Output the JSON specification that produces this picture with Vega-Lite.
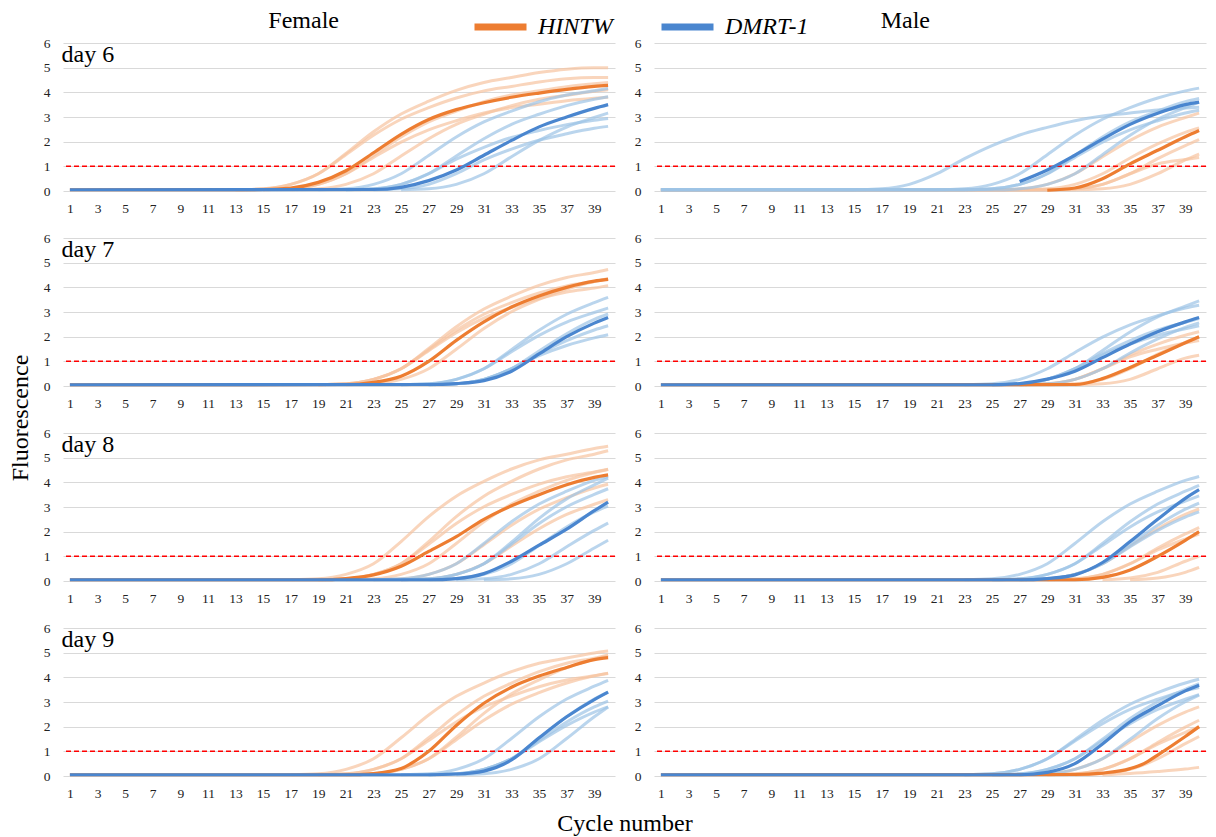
{
"$schema":"https://vega.github.io/schema/vega-lite/v6.json",
"padding":{"left":8,"top":9,"right":2,"bottom":0},
"background":"white",
"data":{"values":[
{"s":"F","d":6,"k":"L","t":"day 6"},{"s":"F","d":7,"k":"L","t":"day 7"},{"s":"F","d":8,"k":"L","t":"day 8"},{"s":"F","d":9,"k":"L","t":"day 9"},
{"s":"M","d":6,"k":"L","t":""},{"s":"M","d":7,"k":"L","t":""},{"s":"M","d":8,"k":"L","t":""},{"s":"M","d":9,"k":"L","t":""},

{"s":"F","d":6,"k":"H0","c":1,"f":0.05},{"s":"F","d":6,"k":"H0","c":15,"f":0.06},{"s":"F","d":6,"k":"H0","c":17,"f":0.12},{"s":"F","d":6,"k":"H0","c":19,"f":0.35},{"s":"F","d":6,"k":"H0","c":21,"f":0.82},{"s":"F","d":6,"k":"H0","c":23,"f":1.55},{"s":"F","d":6,"k":"H0","c":25,"f":2.3},{"s":"F","d":6,"k":"H0","c":27,"f":2.9},{"s":"F","d":6,"k":"H0","c":29,"f":3.3},{"s":"F","d":6,"k":"H0","c":31,"f":3.58},{"s":"F","d":6,"k":"H0","c":33,"f":3.8},{"s":"F","d":6,"k":"H0","c":35,"f":3.97},{"s":"F","d":6,"k":"H0","c":37,"f":4.12},{"s":"F","d":6,"k":"H0","c":39,"f":4.24},{"s":"F","d":6,"k":"H0","c":40,"f":4.28},
{"s":"F","d":6,"k":"H1","c":13,"f":0.05},{"s":"F","d":6,"k":"H1","c":15,"f":0.09},{"s":"F","d":6,"k":"H1","c":17,"f":0.27},{"s":"F","d":6,"k":"H1","c":19,"f":0.7},{"s":"F","d":6,"k":"H1","c":21,"f":1.52},{"s":"F","d":6,"k":"H1","c":23,"f":2.4},{"s":"F","d":6,"k":"H1","c":25,"f":3.12},{"s":"F","d":6,"k":"H1","c":27,"f":3.64},{"s":"F","d":6,"k":"H1","c":29,"f":4.08},{"s":"F","d":6,"k":"H1","c":31,"f":4.4},{"s":"F","d":6,"k":"H1","c":33,"f":4.6},{"s":"F","d":6,"k":"H1","c":35,"f":4.8},{"s":"F","d":6,"k":"H1","c":37,"f":4.94},{"s":"F","d":6,"k":"H1","c":39,"f":5.0},{"s":"F","d":6,"k":"H1","c":40,"f":5.0},
{"s":"F","d":6,"k":"H2","c":13,"f":0.05},{"s":"F","d":6,"k":"H2","c":15,"f":0.09},{"s":"F","d":6,"k":"H2","c":17,"f":0.27},{"s":"F","d":6,"k":"H2","c":19,"f":0.7},{"s":"F","d":6,"k":"H2","c":21,"f":1.47},{"s":"F","d":6,"k":"H2","c":23,"f":2.26},{"s":"F","d":6,"k":"H2","c":25,"f":2.91},{"s":"F","d":6,"k":"H2","c":27,"f":3.38},{"s":"F","d":6,"k":"H2","c":29,"f":3.77},{"s":"F","d":6,"k":"H2","c":31,"f":4.06},{"s":"F","d":6,"k":"H2","c":33,"f":4.24},{"s":"F","d":6,"k":"H2","c":35,"f":4.42},{"s":"F","d":6,"k":"H2","c":37,"f":4.55},{"s":"F","d":6,"k":"H2","c":39,"f":4.6},{"s":"F","d":6,"k":"H2","c":40,"f":4.6},
{"s":"F","d":6,"k":"H3","c":15,"f":0.05},{"s":"F","d":6,"k":"H3","c":17,"f":0.09},{"s":"F","d":6,"k":"H3","c":19,"f":0.27},{"s":"F","d":6,"k":"H3","c":21,"f":0.7},{"s":"F","d":6,"k":"H3","c":23,"f":1.44},{"s":"F","d":6,"k":"H3","c":25,"f":2.19},{"s":"F","d":6,"k":"H3","c":27,"f":2.8},{"s":"F","d":6,"k":"H3","c":29,"f":3.24},{"s":"F","d":6,"k":"H3","c":31,"f":3.62},{"s":"F","d":6,"k":"H3","c":33,"f":3.89},{"s":"F","d":6,"k":"H3","c":35,"f":4.06},{"s":"F","d":6,"k":"H3","c":37,"f":4.23},{"s":"F","d":6,"k":"H3","c":39,"f":4.35},{"s":"F","d":6,"k":"H3","c":40,"f":4.4},
{"s":"F","d":6,"k":"H4","c":15,"f":0.05},{"s":"F","d":6,"k":"H4","c":17,"f":0.09},{"s":"F","d":6,"k":"H4","c":19,"f":0.27},{"s":"F","d":6,"k":"H4","c":21,"f":0.7},{"s":"F","d":6,"k":"H4","c":23,"f":1.36},{"s":"F","d":6,"k":"H4","c":25,"f":1.98},{"s":"F","d":6,"k":"H4","c":27,"f":2.48},{"s":"F","d":6,"k":"H4","c":29,"f":2.85},{"s":"F","d":6,"k":"H4","c":31,"f":3.16},{"s":"F","d":6,"k":"H4","c":33,"f":3.38},{"s":"F","d":6,"k":"H4","c":35,"f":3.52},{"s":"F","d":6,"k":"H4","c":37,"f":3.66},{"s":"F","d":6,"k":"H4","c":39,"f":3.76},{"s":"F","d":6,"k":"H4","c":40,"f":3.8},
{"s":"F","d":6,"k":"H5","c":17,"f":0.05},{"s":"F","d":6,"k":"H5","c":19,"f":0.09},{"s":"F","d":6,"k":"H5","c":21,"f":0.27},{"s":"F","d":6,"k":"H5","c":23,"f":0.7},{"s":"F","d":6,"k":"H5","c":25,"f":1.42},{"s":"F","d":6,"k":"H5","c":27,"f":2.12},{"s":"F","d":6,"k":"H5","c":29,"f":2.7},{"s":"F","d":6,"k":"H5","c":31,"f":3.11},{"s":"F","d":6,"k":"H5","c":33,"f":3.46},{"s":"F","d":6,"k":"H5","c":35,"f":3.72},{"s":"F","d":6,"k":"H5","c":37,"f":3.88},{"s":"F","d":6,"k":"H5","c":39,"f":4.04},{"s":"F","d":6,"k":"H5","c":40,"f":4.1},
{"s":"F","d":6,"k":"D0","c":1,"f":0.05},{"s":"F","d":6,"k":"D0","c":23,"f":0.06},{"s":"F","d":6,"k":"D0","c":25,"f":0.15},{"s":"F","d":6,"k":"D0","c":27,"f":0.42},{"s":"F","d":6,"k":"D0","c":29,"f":0.85},{"s":"F","d":6,"k":"D0","c":31,"f":1.45},{"s":"F","d":6,"k":"D0","c":33,"f":2.05},{"s":"F","d":6,"k":"D0","c":35,"f":2.6},{"s":"F","d":6,"k":"D0","c":37,"f":3.0},{"s":"F","d":6,"k":"D0","c":39,"f":3.35},{"s":"F","d":6,"k":"D0","c":40,"f":3.5},
{"s":"F","d":6,"k":"D1","c":19,"f":0.05},{"s":"F","d":6,"k":"D1","c":21,"f":0.09},{"s":"F","d":6,"k":"D1","c":23,"f":0.27},{"s":"F","d":6,"k":"D1","c":25,"f":0.7},{"s":"F","d":6,"k":"D1","c":27,"f":1.44},{"s":"F","d":6,"k":"D1","c":29,"f":2.19},{"s":"F","d":6,"k":"D1","c":31,"f":2.8},{"s":"F","d":6,"k":"D1","c":33,"f":3.24},{"s":"F","d":6,"k":"D1","c":35,"f":3.62},{"s":"F","d":6,"k":"D1","c":37,"f":3.89},{"s":"F","d":6,"k":"D1","c":39,"f":4.06},{"s":"F","d":6,"k":"D1","c":40,"f":4.16},
{"s":"F","d":6,"k":"D2","c":21,"f":0.05},{"s":"F","d":6,"k":"D2","c":23,"f":0.09},{"s":"F","d":6,"k":"D2","c":25,"f":0.27},{"s":"F","d":6,"k":"D2","c":27,"f":0.7},{"s":"F","d":6,"k":"D2","c":29,"f":1.42},{"s":"F","d":6,"k":"D2","c":31,"f":2.12},{"s":"F","d":6,"k":"D2","c":33,"f":2.7},{"s":"F","d":6,"k":"D2","c":35,"f":3.11},{"s":"F","d":6,"k":"D2","c":37,"f":3.46},{"s":"F","d":6,"k":"D2","c":39,"f":3.72},{"s":"F","d":6,"k":"D2","c":40,"f":3.82},
{"s":"F","d":6,"k":"D3","c":21,"f":0.05},{"s":"F","d":6,"k":"D3","c":23,"f":0.09},{"s":"F","d":6,"k":"D3","c":25,"f":0.27},{"s":"F","d":6,"k":"D3","c":27,"f":0.7},{"s":"F","d":6,"k":"D3","c":29,"f":1.29},{"s":"F","d":6,"k":"D3","c":31,"f":1.77},{"s":"F","d":6,"k":"D3","c":33,"f":2.17},{"s":"F","d":6,"k":"D3","c":35,"f":2.45},{"s":"F","d":6,"k":"D3","c":37,"f":2.69},{"s":"F","d":6,"k":"D3","c":39,"f":2.87},{"s":"F","d":6,"k":"D3","c":40,"f":2.94},
{"s":"F","d":6,"k":"D4","c":23,"f":0.05},{"s":"F","d":6,"k":"D4","c":25,"f":0.09},{"s":"F","d":6,"k":"D4","c":27,"f":0.27},{"s":"F","d":6,"k":"D4","c":29,"f":0.7},{"s":"F","d":6,"k":"D4","c":31,"f":1.26},{"s":"F","d":6,"k":"D4","c":33,"f":1.7},{"s":"F","d":6,"k":"D4","c":35,"f":2.06},{"s":"F","d":6,"k":"D4","c":37,"f":2.32},{"s":"F","d":6,"k":"D4","c":39,"f":2.54},{"s":"F","d":6,"k":"D4","c":40,"f":2.62},
{"s":"F","d":6,"k":"D5","c":25,"f":0.05},{"s":"F","d":6,"k":"D5","c":27,"f":0.09},{"s":"F","d":6,"k":"D5","c":29,"f":0.27},{"s":"F","d":6,"k":"D5","c":31,"f":0.7},{"s":"F","d":6,"k":"D5","c":33,"f":1.39},{"s":"F","d":6,"k":"D5","c":35,"f":2.05},{"s":"F","d":6,"k":"D5","c":37,"f":2.59},{"s":"F","d":6,"k":"D5","c":39,"f":2.98},{"s":"F","d":6,"k":"D5","c":40,"f":3.16},

{"s":"M","d":6,"k":"H0","c":29,"f":0.03},{"s":"M","d":6,"k":"H0","c":31,"f":0.12},{"s":"M","d":6,"k":"H0","c":33,"f":0.5},{"s":"M","d":6,"k":"H0","c":35,"f":1.1},{"s":"M","d":6,"k":"H0","c":37,"f":1.65},{"s":"M","d":6,"k":"H0","c":39,"f":2.2},{"s":"M","d":6,"k":"H0","c":40,"f":2.45},
{"s":"M","d":6,"k":"H1","c":1,"f":0.05},{"s":"M","d":6,"k":"H1","c":25,"f":0.05},{"s":"M","d":6,"k":"H1","c":27,"f":0.09},{"s":"M","d":6,"k":"H1","c":29,"f":0.27},{"s":"M","d":6,"k":"H1","c":31,"f":0.7},{"s":"M","d":6,"k":"H1","c":33,"f":1.39},{"s":"M","d":6,"k":"H1","c":35,"f":2.05},{"s":"M","d":6,"k":"H1","c":37,"f":2.59},{"s":"M","d":6,"k":"H1","c":39,"f":2.98},{"s":"M","d":6,"k":"H1","c":40,"f":3.16},
{"s":"M","d":6,"k":"H2","c":1,"f":0.05},{"s":"M","d":6,"k":"H2","c":27,"f":0.05},{"s":"M","d":6,"k":"H2","c":29,"f":0.09},{"s":"M","d":6,"k":"H2","c":31,"f":0.27},{"s":"M","d":6,"k":"H2","c":33,"f":0.7},{"s":"M","d":6,"k":"H2","c":35,"f":1.34},{"s":"M","d":6,"k":"H2","c":37,"f":1.91},{"s":"M","d":6,"k":"H2","c":39,"f":2.38},{"s":"M","d":6,"k":"H2","c":40,"f":2.56},
{"s":"M","d":6,"k":"H3","c":1,"f":0.05},{"s":"M","d":6,"k":"H3","c":29,"f":0.05},{"s":"M","d":6,"k":"H3","c":31,"f":0.09},{"s":"M","d":6,"k":"H3","c":33,"f":0.27},{"s":"M","d":6,"k":"H3","c":35,"f":0.7},{"s":"M","d":6,"k":"H3","c":37,"f":1.31},{"s":"M","d":6,"k":"H3","c":39,"f":1.84},{"s":"M","d":6,"k":"H3","c":40,"f":2.08},
{"s":"M","d":6,"k":"H4","c":1,"f":0.05},{"s":"M","d":6,"k":"H4","c":29,"f":0.05},{"s":"M","d":6,"k":"H4","c":31,"f":0.09},{"s":"M","d":6,"k":"H4","c":33,"f":0.27},{"s":"M","d":6,"k":"H4","c":35,"f":0.7},{"s":"M","d":6,"k":"H4","c":37,"f":1.1},{"s":"M","d":6,"k":"H4","c":39,"f":1.28},{"s":"M","d":6,"k":"H4","c":40,"f":1.36},
{"s":"M","d":6,"k":"H5","c":1,"f":0.05},{"s":"M","d":6,"k":"H5","c":31,"f":0.05},{"s":"M","d":6,"k":"H5","c":33,"f":0.09},{"s":"M","d":6,"k":"H5","c":35,"f":0.27},{"s":"M","d":6,"k":"H5","c":37,"f":0.7},{"s":"M","d":6,"k":"H5","c":39,"f":1.26},{"s":"M","d":6,"k":"H5","c":40,"f":1.5},
{"s":"M","d":6,"k":"D0","c":27,"f":0.38},{"s":"M","d":6,"k":"D0","c":29,"f":0.85},{"s":"M","d":6,"k":"D0","c":31,"f":1.45},{"s":"M","d":6,"k":"D0","c":33,"f":2.1},{"s":"M","d":6,"k":"D0","c":35,"f":2.7},{"s":"M","d":6,"k":"D0","c":37,"f":3.15},{"s":"M","d":6,"k":"D0","c":39,"f":3.5},{"s":"M","d":6,"k":"D0","c":40,"f":3.6},
{"s":"M","d":6,"k":"D1","c":1,"f":0.05},{"s":"M","d":6,"k":"D1","c":15,"f":0.05},{"s":"M","d":6,"k":"D1","c":17,"f":0.09},{"s":"M","d":6,"k":"D1","c":19,"f":0.27},{"s":"M","d":6,"k":"D1","c":21,"f":0.7},{"s":"M","d":6,"k":"D1","c":23,"f":1.31},{"s":"M","d":6,"k":"D1","c":25,"f":1.84},{"s":"M","d":6,"k":"D1","c":27,"f":2.27},{"s":"M","d":6,"k":"D1","c":29,"f":2.58},{"s":"M","d":6,"k":"D1","c":31,"f":2.85},{"s":"M","d":6,"k":"D1","c":33,"f":3.04},{"s":"M","d":6,"k":"D1","c":35,"f":3.16},{"s":"M","d":6,"k":"D1","c":37,"f":3.28},{"s":"M","d":6,"k":"D1","c":39,"f":3.36},{"s":"M","d":6,"k":"D1","c":40,"f":3.4},
{"s":"M","d":6,"k":"D2","c":1,"f":0.05},{"s":"M","d":6,"k":"D2","c":21,"f":0.05},{"s":"M","d":6,"k":"D2","c":23,"f":0.09},{"s":"M","d":6,"k":"D2","c":25,"f":0.27},{"s":"M","d":6,"k":"D2","c":27,"f":0.7},{"s":"M","d":6,"k":"D2","c":29,"f":1.47},{"s":"M","d":6,"k":"D2","c":31,"f":2.26},{"s":"M","d":6,"k":"D2","c":33,"f":2.91},{"s":"M","d":6,"k":"D2","c":35,"f":3.38},{"s":"M","d":6,"k":"D2","c":37,"f":3.77},{"s":"M","d":6,"k":"D2","c":39,"f":4.06},{"s":"M","d":6,"k":"D2","c":40,"f":4.17},
{"s":"M","d":6,"k":"D3","c":1,"f":0.05},{"s":"M","d":6,"k":"D3","c":23,"f":0.05},{"s":"M","d":6,"k":"D3","c":25,"f":0.09},{"s":"M","d":6,"k":"D3","c":27,"f":0.27},{"s":"M","d":6,"k":"D3","c":29,"f":0.7},{"s":"M","d":6,"k":"D3","c":31,"f":1.44},{"s":"M","d":6,"k":"D3","c":33,"f":2.19},{"s":"M","d":6,"k":"D3","c":35,"f":2.8},{"s":"M","d":6,"k":"D3","c":37,"f":3.24},{"s":"M","d":6,"k":"D3","c":39,"f":3.62},{"s":"M","d":6,"k":"D3","c":40,"f":3.75},
{"s":"M","d":6,"k":"D4","c":1,"f":0.05},{"s":"M","d":6,"k":"D4","c":23,"f":0.05},{"s":"M","d":6,"k":"D4","c":25,"f":0.09},{"s":"M","d":6,"k":"D4","c":27,"f":0.27},{"s":"M","d":6,"k":"D4","c":29,"f":0.7},{"s":"M","d":6,"k":"D4","c":31,"f":1.36},{"s":"M","d":6,"k":"D4","c":33,"f":1.98},{"s":"M","d":6,"k":"D4","c":35,"f":2.48},{"s":"M","d":6,"k":"D4","c":37,"f":2.85},{"s":"M","d":6,"k":"D4","c":39,"f":3.16},{"s":"M","d":6,"k":"D4","c":40,"f":3.27},
{"s":"M","d":6,"k":"D5","c":1,"f":0.05},{"s":"M","d":6,"k":"D5","c":25,"f":0.05},{"s":"M","d":6,"k":"D5","c":27,"f":0.09},{"s":"M","d":6,"k":"D5","c":29,"f":0.27},{"s":"M","d":6,"k":"D5","c":31,"f":0.7},{"s":"M","d":6,"k":"D5","c":33,"f":1.47},{"s":"M","d":6,"k":"D5","c":35,"f":2.26},{"s":"M","d":6,"k":"D5","c":37,"f":2.91},{"s":"M","d":6,"k":"D5","c":39,"f":3.38},{"s":"M","d":6,"k":"D5","c":40,"f":3.59},

{"s":"F","d":7,"k":"H0","c":1,"f":0.05},{"s":"F","d":7,"k":"H0","c":21,"f":0.06},{"s":"F","d":7,"k":"H0","c":23,"f":0.15},{"s":"F","d":7,"k":"H0","c":25,"f":0.4},{"s":"F","d":7,"k":"H0","c":27,"f":1.0},{"s":"F","d":7,"k":"H0","c":29,"f":1.85},{"s":"F","d":7,"k":"H0","c":31,"f":2.6},{"s":"F","d":7,"k":"H0","c":33,"f":3.2},{"s":"F","d":7,"k":"H0","c":35,"f":3.65},{"s":"F","d":7,"k":"H0","c":37,"f":4.0},{"s":"F","d":7,"k":"H0","c":39,"f":4.25},{"s":"F","d":7,"k":"H0","c":40,"f":4.32},
{"s":"F","d":7,"k":"H1","c":19,"f":0.05},{"s":"F","d":7,"k":"H1","c":21,"f":0.09},{"s":"F","d":7,"k":"H1","c":23,"f":0.27},{"s":"F","d":7,"k":"H1","c":25,"f":0.7},{"s":"F","d":7,"k":"H1","c":27,"f":1.52},{"s":"F","d":7,"k":"H1","c":29,"f":2.4},{"s":"F","d":7,"k":"H1","c":31,"f":3.12},{"s":"F","d":7,"k":"H1","c":33,"f":3.64},{"s":"F","d":7,"k":"H1","c":35,"f":4.08},{"s":"F","d":7,"k":"H1","c":37,"f":4.4},{"s":"F","d":7,"k":"H1","c":39,"f":4.6},{"s":"F","d":7,"k":"H1","c":40,"f":4.72},
{"s":"F","d":7,"k":"H2","c":19,"f":0.05},{"s":"F","d":7,"k":"H2","c":21,"f":0.09},{"s":"F","d":7,"k":"H2","c":23,"f":0.27},{"s":"F","d":7,"k":"H2","c":25,"f":0.7},{"s":"F","d":7,"k":"H2","c":27,"f":1.47},{"s":"F","d":7,"k":"H2","c":29,"f":2.26},{"s":"F","d":7,"k":"H2","c":31,"f":2.91},{"s":"F","d":7,"k":"H2","c":33,"f":3.38},{"s":"F","d":7,"k":"H2","c":35,"f":3.77},{"s":"F","d":7,"k":"H2","c":37,"f":4.06},{"s":"F","d":7,"k":"H2","c":39,"f":4.24},{"s":"F","d":7,"k":"H2","c":40,"f":4.35},
{"s":"F","d":7,"k":"H3","c":21,"f":0.05},{"s":"F","d":7,"k":"H3","c":23,"f":0.09},{"s":"F","d":7,"k":"H3","c":25,"f":0.27},{"s":"F","d":7,"k":"H3","c":27,"f":0.7},{"s":"F","d":7,"k":"H3","c":29,"f":1.49},{"s":"F","d":7,"k":"H3","c":31,"f":2.33},{"s":"F","d":7,"k":"H3","c":33,"f":3.01},{"s":"F","d":7,"k":"H3","c":35,"f":3.51},{"s":"F","d":7,"k":"H3","c":37,"f":3.93},{"s":"F","d":7,"k":"H3","c":39,"f":4.23},{"s":"F","d":7,"k":"H3","c":40,"f":4.34},
{"s":"F","d":7,"k":"H4","c":19,"f":0.05},{"s":"F","d":7,"k":"H4","c":21,"f":0.09},{"s":"F","d":7,"k":"H4","c":23,"f":0.27},{"s":"F","d":7,"k":"H4","c":25,"f":0.7},{"s":"F","d":7,"k":"H4","c":27,"f":1.43},{"s":"F","d":7,"k":"H4","c":29,"f":2.16},{"s":"F","d":7,"k":"H4","c":31,"f":2.75},{"s":"F","d":7,"k":"H4","c":33,"f":3.18},{"s":"F","d":7,"k":"H4","c":35,"f":3.54},{"s":"F","d":7,"k":"H4","c":37,"f":3.81},{"s":"F","d":7,"k":"H4","c":39,"f":3.97},{"s":"F","d":7,"k":"H4","c":40,"f":4.07},
{"s":"F","d":7,"k":"D0","c":1,"f":0.05},{"s":"F","d":7,"k":"D0","c":27,"f":0.06},{"s":"F","d":7,"k":"D0","c":29,"f":0.1},{"s":"F","d":7,"k":"D0","c":31,"f":0.22},{"s":"F","d":7,"k":"D0","c":33,"f":0.6},{"s":"F","d":7,"k":"D0","c":35,"f":1.3},{"s":"F","d":7,"k":"D0","c":37,"f":2.0},{"s":"F","d":7,"k":"D0","c":39,"f":2.55},{"s":"F","d":7,"k":"D0","c":40,"f":2.78},
{"s":"F","d":7,"k":"D1","c":25,"f":0.05},{"s":"F","d":7,"k":"D1","c":27,"f":0.09},{"s":"F","d":7,"k":"D1","c":29,"f":0.27},{"s":"F","d":7,"k":"D1","c":31,"f":0.7},{"s":"F","d":7,"k":"D1","c":33,"f":1.47},{"s":"F","d":7,"k":"D1","c":35,"f":2.26},{"s":"F","d":7,"k":"D1","c":37,"f":2.91},{"s":"F","d":7,"k":"D1","c":39,"f":3.38},{"s":"F","d":7,"k":"D1","c":40,"f":3.59},
{"s":"F","d":7,"k":"D2","c":25,"f":0.05},{"s":"F","d":7,"k":"D2","c":27,"f":0.09},{"s":"F","d":7,"k":"D2","c":29,"f":0.27},{"s":"F","d":7,"k":"D2","c":31,"f":0.7},{"s":"F","d":7,"k":"D2","c":33,"f":1.39},{"s":"F","d":7,"k":"D2","c":35,"f":2.05},{"s":"F","d":7,"k":"D2","c":37,"f":2.59},{"s":"F","d":7,"k":"D2","c":39,"f":2.98},{"s":"F","d":7,"k":"D2","c":40,"f":3.16},
{"s":"F","d":7,"k":"D3","c":27,"f":0.05},{"s":"F","d":7,"k":"D3","c":29,"f":0.09},{"s":"F","d":7,"k":"D3","c":31,"f":0.27},{"s":"F","d":7,"k":"D3","c":33,"f":0.7},{"s":"F","d":7,"k":"D3","c":35,"f":1.42},{"s":"F","d":7,"k":"D3","c":37,"f":2.12},{"s":"F","d":7,"k":"D3","c":39,"f":2.7},{"s":"F","d":7,"k":"D3","c":40,"f":2.92},
{"s":"F","d":7,"k":"D4","c":27,"f":0.05},{"s":"F","d":7,"k":"D4","c":29,"f":0.09},{"s":"F","d":7,"k":"D4","c":31,"f":0.27},{"s":"F","d":7,"k":"D4","c":33,"f":0.7},{"s":"F","d":7,"k":"D4","c":35,"f":1.31},{"s":"F","d":7,"k":"D4","c":37,"f":1.84},{"s":"F","d":7,"k":"D4","c":39,"f":2.27},{"s":"F","d":7,"k":"D4","c":40,"f":2.44},
{"s":"F","d":7,"k":"D5","c":27,"f":0.05},{"s":"F","d":7,"k":"D5","c":29,"f":0.09},{"s":"F","d":7,"k":"D5","c":31,"f":0.27},{"s":"F","d":7,"k":"D5","c":33,"f":0.7},{"s":"F","d":7,"k":"D5","c":35,"f":1.23},{"s":"F","d":7,"k":"D5","c":37,"f":1.64},{"s":"F","d":7,"k":"D5","c":39,"f":1.95},{"s":"F","d":7,"k":"D5","c":40,"f":2.08},

{"s":"M","d":7,"k":"H0","c":1,"f":0.05},{"s":"M","d":7,"k":"H0","c":31,"f":0.06},{"s":"M","d":7,"k":"H0","c":33,"f":0.3},{"s":"M","d":7,"k":"H0","c":35,"f":0.75},{"s":"M","d":7,"k":"H0","c":37,"f":1.25},{"s":"M","d":7,"k":"H0","c":39,"f":1.75},{"s":"M","d":7,"k":"H0","c":40,"f":2.0},
{"s":"M","d":7,"k":"H1","c":27,"f":0.05},{"s":"M","d":7,"k":"H1","c":29,"f":0.09},{"s":"M","d":7,"k":"H1","c":31,"f":0.27},{"s":"M","d":7,"k":"H1","c":33,"f":0.7},{"s":"M","d":7,"k":"H1","c":35,"f":1.26},{"s":"M","d":7,"k":"H1","c":37,"f":1.7},{"s":"M","d":7,"k":"H1","c":39,"f":2.06},{"s":"M","d":7,"k":"H1","c":40,"f":2.2},
{"s":"M","d":7,"k":"H2","c":29,"f":0.05},{"s":"M","d":7,"k":"H2","c":31,"f":0.09},{"s":"M","d":7,"k":"H2","c":33,"f":0.27},{"s":"M","d":7,"k":"H2","c":35,"f":0.7},{"s":"M","d":7,"k":"H2","c":37,"f":1.29},{"s":"M","d":7,"k":"H2","c":39,"f":1.77},{"s":"M","d":7,"k":"H2","c":40,"f":1.99},
{"s":"M","d":7,"k":"H3","c":31,"f":0.05},{"s":"M","d":7,"k":"H3","c":33,"f":0.09},{"s":"M","d":7,"k":"H3","c":35,"f":0.27},{"s":"M","d":7,"k":"H3","c":37,"f":0.7},{"s":"M","d":7,"k":"H3","c":39,"f":1.13},{"s":"M","d":7,"k":"H3","c":40,"f":1.25},
{"s":"M","d":7,"k":"H4","c":27,"f":0.05},{"s":"M","d":7,"k":"H4","c":29,"f":0.09},{"s":"M","d":7,"k":"H4","c":31,"f":0.27},{"s":"M","d":7,"k":"H4","c":33,"f":0.7},{"s":"M","d":7,"k":"H4","c":35,"f":1.18},{"s":"M","d":7,"k":"H4","c":37,"f":1.49},{"s":"M","d":7,"k":"H4","c":39,"f":1.74},{"s":"M","d":7,"k":"H4","c":40,"f":1.84},
{"s":"M","d":7,"k":"D0","c":1,"f":0.05},{"s":"M","d":7,"k":"D0","c":25,"f":0.05},{"s":"M","d":7,"k":"D0","c":27,"f":0.1},{"s":"M","d":7,"k":"D0","c":29,"f":0.28},{"s":"M","d":7,"k":"D0","c":31,"f":0.6},{"s":"M","d":7,"k":"D0","c":33,"f":1.15},{"s":"M","d":7,"k":"D0","c":35,"f":1.7},{"s":"M","d":7,"k":"D0","c":37,"f":2.2},{"s":"M","d":7,"k":"D0","c":39,"f":2.6},{"s":"M","d":7,"k":"D0","c":40,"f":2.78},
{"s":"M","d":7,"k":"D1","c":23,"f":0.05},{"s":"M","d":7,"k":"D1","c":25,"f":0.09},{"s":"M","d":7,"k":"D1","c":27,"f":0.27},{"s":"M","d":7,"k":"D1","c":29,"f":0.7},{"s":"M","d":7,"k":"D1","c":31,"f":1.36},{"s":"M","d":7,"k":"D1","c":33,"f":1.98},{"s":"M","d":7,"k":"D1","c":35,"f":2.48},{"s":"M","d":7,"k":"D1","c":37,"f":2.85},{"s":"M","d":7,"k":"D1","c":39,"f":3.16},{"s":"M","d":7,"k":"D1","c":40,"f":3.27},
{"s":"M","d":7,"k":"D2","c":25,"f":0.05},{"s":"M","d":7,"k":"D2","c":27,"f":0.09},{"s":"M","d":7,"k":"D2","c":29,"f":0.27},{"s":"M","d":7,"k":"D2","c":31,"f":0.7},{"s":"M","d":7,"k":"D2","c":33,"f":1.44},{"s":"M","d":7,"k":"D2","c":35,"f":2.19},{"s":"M","d":7,"k":"D2","c":37,"f":2.8},{"s":"M","d":7,"k":"D2","c":39,"f":3.24},{"s":"M","d":7,"k":"D2","c":40,"f":3.45},
{"s":"M","d":7,"k":"D3","c":25,"f":0.05},{"s":"M","d":7,"k":"D3","c":27,"f":0.09},{"s":"M","d":7,"k":"D3","c":29,"f":0.27},{"s":"M","d":7,"k":"D3","c":31,"f":0.7},{"s":"M","d":7,"k":"D3","c":33,"f":1.31},{"s":"M","d":7,"k":"D3","c":35,"f":1.84},{"s":"M","d":7,"k":"D3","c":37,"f":2.27},{"s":"M","d":7,"k":"D3","c":39,"f":2.58},{"s":"M","d":7,"k":"D3","c":40,"f":2.73},
{"s":"M","d":7,"k":"D4","c":27,"f":0.05},{"s":"M","d":7,"k":"D4","c":29,"f":0.09},{"s":"M","d":7,"k":"D4","c":31,"f":0.27},{"s":"M","d":7,"k":"D4","c":33,"f":0.7},{"s":"M","d":7,"k":"D4","c":35,"f":1.34},{"s":"M","d":7,"k":"D4","c":37,"f":1.91},{"s":"M","d":7,"k":"D4","c":39,"f":2.38},{"s":"M","d":7,"k":"D4","c":40,"f":2.56},
{"s":"M","d":7,"k":"D5","c":25,"f":0.05},{"s":"M","d":7,"k":"D5","c":27,"f":0.09},{"s":"M","d":7,"k":"D5","c":29,"f":0.27},{"s":"M","d":7,"k":"D5","c":31,"f":0.7},{"s":"M","d":7,"k":"D5","c":33,"f":1.26},{"s":"M","d":7,"k":"D5","c":35,"f":1.7},{"s":"M","d":7,"k":"D5","c":37,"f":2.06},{"s":"M","d":7,"k":"D5","c":39,"f":2.32},{"s":"M","d":7,"k":"D5","c":40,"f":2.44},

{"s":"F","d":8,"k":"H0","c":1,"f":0.05},{"s":"F","d":8,"k":"H0","c":19,"f":0.05},{"s":"F","d":8,"k":"H0","c":21,"f":0.1},{"s":"F","d":8,"k":"H0","c":23,"f":0.25},{"s":"F","d":8,"k":"H0","c":25,"f":0.6},{"s":"F","d":8,"k":"H0","c":27,"f":1.2},{"s":"F","d":8,"k":"H0","c":29,"f":1.8},{"s":"F","d":8,"k":"H0","c":31,"f":2.5},{"s":"F","d":8,"k":"H0","c":33,"f":3.05},{"s":"F","d":8,"k":"H0","c":35,"f":3.5},{"s":"F","d":8,"k":"H0","c":37,"f":3.9},{"s":"F","d":8,"k":"H0","c":39,"f":4.2},{"s":"F","d":8,"k":"H0","c":40,"f":4.3},
{"s":"F","d":8,"k":"H1","c":17,"f":0.05},{"s":"F","d":8,"k":"H1","c":19,"f":0.09},{"s":"F","d":8,"k":"H1","c":21,"f":0.27},{"s":"F","d":8,"k":"H1","c":23,"f":0.7},{"s":"F","d":8,"k":"H1","c":25,"f":1.6},{"s":"F","d":8,"k":"H1","c":27,"f":2.61},{"s":"F","d":8,"k":"H1","c":29,"f":3.44},{"s":"F","d":8,"k":"H1","c":31,"f":4.04},{"s":"F","d":8,"k":"H1","c":33,"f":4.54},{"s":"F","d":8,"k":"H1","c":35,"f":4.91},{"s":"F","d":8,"k":"H1","c":37,"f":5.14},{"s":"F","d":8,"k":"H1","c":39,"f":5.37},{"s":"F","d":8,"k":"H1","c":40,"f":5.46},
{"s":"F","d":8,"k":"H2","c":19,"f":0.05},{"s":"F","d":8,"k":"H2","c":21,"f":0.09},{"s":"F","d":8,"k":"H2","c":23,"f":0.27},{"s":"F","d":8,"k":"H2","c":25,"f":0.7},{"s":"F","d":8,"k":"H2","c":27,"f":1.6},{"s":"F","d":8,"k":"H2","c":29,"f":2.61},{"s":"F","d":8,"k":"H2","c":31,"f":3.44},{"s":"F","d":8,"k":"H2","c":33,"f":4.04},{"s":"F","d":8,"k":"H2","c":35,"f":4.54},{"s":"F","d":8,"k":"H2","c":37,"f":4.91},{"s":"F","d":8,"k":"H2","c":39,"f":5.14},{"s":"F","d":8,"k":"H2","c":40,"f":5.28},
{"s":"F","d":8,"k":"H3","c":19,"f":0.05},{"s":"F","d":8,"k":"H3","c":21,"f":0.09},{"s":"F","d":8,"k":"H3","c":23,"f":0.27},{"s":"F","d":8,"k":"H3","c":25,"f":0.7},{"s":"F","d":8,"k":"H3","c":27,"f":1.49},{"s":"F","d":8,"k":"H3","c":29,"f":2.33},{"s":"F","d":8,"k":"H3","c":31,"f":3.01},{"s":"F","d":8,"k":"H3","c":33,"f":3.51},{"s":"F","d":8,"k":"H3","c":35,"f":3.93},{"s":"F","d":8,"k":"H3","c":37,"f":4.23},{"s":"F","d":8,"k":"H3","c":39,"f":4.42},{"s":"F","d":8,"k":"H3","c":40,"f":4.53},
{"s":"F","d":8,"k":"H4","c":21,"f":0.05},{"s":"F","d":8,"k":"H4","c":23,"f":0.09},{"s":"F","d":8,"k":"H4","c":25,"f":0.27},{"s":"F","d":8,"k":"H4","c":27,"f":0.7},{"s":"F","d":8,"k":"H4","c":29,"f":1.52},{"s":"F","d":8,"k":"H4","c":31,"f":2.4},{"s":"F","d":8,"k":"H4","c":33,"f":3.12},{"s":"F","d":8,"k":"H4","c":35,"f":3.64},{"s":"F","d":8,"k":"H4","c":37,"f":4.08},{"s":"F","d":8,"k":"H4","c":39,"f":4.4},{"s":"F","d":8,"k":"H4","c":40,"f":4.52},
{"s":"F","d":8,"k":"H5","c":23,"f":0.05},{"s":"F","d":8,"k":"H5","c":25,"f":0.09},{"s":"F","d":8,"k":"H5","c":27,"f":0.27},{"s":"F","d":8,"k":"H5","c":29,"f":0.7},{"s":"F","d":8,"k":"H5","c":31,"f":1.47},{"s":"F","d":8,"k":"H5","c":33,"f":2.26},{"s":"F","d":8,"k":"H5","c":35,"f":2.91},{"s":"F","d":8,"k":"H5","c":37,"f":3.38},{"s":"F","d":8,"k":"H5","c":39,"f":3.77},{"s":"F","d":8,"k":"H5","c":40,"f":3.92},
{"s":"F","d":8,"k":"H6","c":25,"f":0.05},{"s":"F","d":8,"k":"H6","c":27,"f":0.09},{"s":"F","d":8,"k":"H6","c":29,"f":0.27},{"s":"F","d":8,"k":"H6","c":31,"f":0.7},{"s":"F","d":8,"k":"H6","c":33,"f":1.42},{"s":"F","d":8,"k":"H6","c":35,"f":2.12},{"s":"F","d":8,"k":"H6","c":37,"f":2.7},{"s":"F","d":8,"k":"H6","c":39,"f":3.11},{"s":"F","d":8,"k":"H6","c":40,"f":3.3},
{"s":"F","d":8,"k":"D0","c":1,"f":0.05},{"s":"F","d":8,"k":"D0","c":27,"f":0.05},{"s":"F","d":8,"k":"D0","c":29,"f":0.1},{"s":"F","d":8,"k":"D0","c":31,"f":0.3},{"s":"F","d":8,"k":"D0","c":33,"f":0.8},{"s":"F","d":8,"k":"D0","c":35,"f":1.45},{"s":"F","d":8,"k":"D0","c":37,"f":2.1},{"s":"F","d":8,"k":"D0","c":39,"f":2.85},{"s":"F","d":8,"k":"D0","c":40,"f":3.2},
{"s":"F","d":8,"k":"D1","c":23,"f":0.05},{"s":"F","d":8,"k":"D1","c":25,"f":0.09},{"s":"F","d":8,"k":"D1","c":27,"f":0.27},{"s":"F","d":8,"k":"D1","c":29,"f":0.7},{"s":"F","d":8,"k":"D1","c":31,"f":1.52},{"s":"F","d":8,"k":"D1","c":33,"f":2.4},{"s":"F","d":8,"k":"D1","c":35,"f":3.12},{"s":"F","d":8,"k":"D1","c":37,"f":3.64},{"s":"F","d":8,"k":"D1","c":39,"f":4.08},{"s":"F","d":8,"k":"D1","c":40,"f":4.24},
{"s":"F","d":8,"k":"D2","c":25,"f":0.05},{"s":"F","d":8,"k":"D2","c":27,"f":0.09},{"s":"F","d":8,"k":"D2","c":29,"f":0.27},{"s":"F","d":8,"k":"D2","c":31,"f":0.7},{"s":"F","d":8,"k":"D2","c":33,"f":1.49},{"s":"F","d":8,"k":"D2","c":35,"f":2.33},{"s":"F","d":8,"k":"D2","c":37,"f":3.01},{"s":"F","d":8,"k":"D2","c":39,"f":3.51},{"s":"F","d":8,"k":"D2","c":40,"f":3.74},
{"s":"F","d":8,"k":"D3","c":27,"f":0.05},{"s":"F","d":8,"k":"D3","c":29,"f":0.09},{"s":"F","d":8,"k":"D3","c":31,"f":0.27},{"s":"F","d":8,"k":"D3","c":33,"f":0.7},{"s":"F","d":8,"k":"D3","c":35,"f":1.44},{"s":"F","d":8,"k":"D3","c":37,"f":2.19},{"s":"F","d":8,"k":"D3","c":39,"f":2.8},{"s":"F","d":8,"k":"D3","c":40,"f":3.04},
{"s":"F","d":8,"k":"D4","c":29,"f":0.05},{"s":"F","d":8,"k":"D4","c":31,"f":0.09},{"s":"F","d":8,"k":"D4","c":33,"f":0.27},{"s":"F","d":8,"k":"D4","c":35,"f":0.7},{"s":"F","d":8,"k":"D4","c":37,"f":1.39},{"s":"F","d":8,"k":"D4","c":39,"f":2.05},{"s":"F","d":8,"k":"D4","c":40,"f":2.35},
{"s":"F","d":8,"k":"D5","c":31,"f":0.05},{"s":"F","d":8,"k":"D5","c":33,"f":0.09},{"s":"F","d":8,"k":"D5","c":35,"f":0.27},{"s":"F","d":8,"k":"D5","c":37,"f":0.7},{"s":"F","d":8,"k":"D5","c":39,"f":1.34},{"s":"F","d":8,"k":"D5","c":40,"f":1.65},
{"s":"F","d":8,"k":"D6","c":25,"f":0.05},{"s":"F","d":8,"k":"D6","c":27,"f":0.09},{"s":"F","d":8,"k":"D6","c":29,"f":0.27},{"s":"F","d":8,"k":"D6","c":31,"f":0.7},{"s":"F","d":8,"k":"D6","c":33,"f":1.57},{"s":"F","d":8,"k":"D6","c":35,"f":2.54},{"s":"F","d":8,"k":"D6","c":37,"f":3.33},{"s":"F","d":8,"k":"D6","c":39,"f":3.9},{"s":"F","d":8,"k":"D6","c":40,"f":4.17},

{"s":"M","d":8,"k":"H0","c":1,"f":0.05},{"s":"M","d":8,"k":"H0","c":31,"f":0.05},{"s":"M","d":8,"k":"H0","c":33,"f":0.15},{"s":"M","d":8,"k":"H0","c":35,"f":0.45},{"s":"M","d":8,"k":"H0","c":37,"f":1.0},{"s":"M","d":8,"k":"H0","c":39,"f":1.65},{"s":"M","d":8,"k":"H0","c":40,"f":2.0},
{"s":"M","d":8,"k":"H1","c":27,"f":0.05},{"s":"M","d":8,"k":"H1","c":29,"f":0.09},{"s":"M","d":8,"k":"H1","c":31,"f":0.27},{"s":"M","d":8,"k":"H1","c":33,"f":0.7},{"s":"M","d":8,"k":"H1","c":35,"f":1.42},{"s":"M","d":8,"k":"H1","c":37,"f":2.12},{"s":"M","d":8,"k":"H1","c":39,"f":2.7},{"s":"M","d":8,"k":"H1","c":40,"f":2.92},
{"s":"M","d":8,"k":"H2","c":29,"f":0.05},{"s":"M","d":8,"k":"H2","c":31,"f":0.09},{"s":"M","d":8,"k":"H2","c":33,"f":0.27},{"s":"M","d":8,"k":"H2","c":35,"f":0.7},{"s":"M","d":8,"k":"H2","c":37,"f":1.34},{"s":"M","d":8,"k":"H2","c":39,"f":1.91},{"s":"M","d":8,"k":"H2","c":40,"f":2.17},
{"s":"M","d":8,"k":"H3","c":29,"f":0.05},{"s":"M","d":8,"k":"H3","c":31,"f":0.09},{"s":"M","d":8,"k":"H3","c":33,"f":0.27},{"s":"M","d":8,"k":"H3","c":35,"f":0.7},{"s":"M","d":8,"k":"H3","c":37,"f":1.26},{"s":"M","d":8,"k":"H3","c":39,"f":1.7},{"s":"M","d":8,"k":"H3","c":40,"f":1.9},
{"s":"M","d":8,"k":"H4","c":33,"f":0.05},{"s":"M","d":8,"k":"H4","c":35,"f":0.12},{"s":"M","d":8,"k":"H4","c":37,"f":0.35},{"s":"M","d":8,"k":"H4","c":39,"f":0.8},{"s":"M","d":8,"k":"H4","c":40,"f":1.0},
{"s":"M","d":8,"k":"H5","c":35,"f":0.05},{"s":"M","d":8,"k":"H5","c":37,"f":0.12},{"s":"M","d":8,"k":"H5","c":39,"f":0.35},{"s":"M","d":8,"k":"H5","c":40,"f":0.55},
{"s":"M","d":8,"k":"D0","c":1,"f":0.05},{"s":"M","d":8,"k":"D0","c":27,"f":0.05},{"s":"M","d":8,"k":"D0","c":29,"f":0.1},{"s":"M","d":8,"k":"D0","c":31,"f":0.25},{"s":"M","d":8,"k":"D0","c":33,"f":0.75},{"s":"M","d":8,"k":"D0","c":35,"f":1.6},{"s":"M","d":8,"k":"D0","c":37,"f":2.5},{"s":"M","d":8,"k":"D0","c":39,"f":3.35},{"s":"M","d":8,"k":"D0","c":40,"f":3.7},
{"s":"M","d":8,"k":"D1","c":23,"f":0.05},{"s":"M","d":8,"k":"D1","c":25,"f":0.09},{"s":"M","d":8,"k":"D1","c":27,"f":0.27},{"s":"M","d":8,"k":"D1","c":29,"f":0.7},{"s":"M","d":8,"k":"D1","c":31,"f":1.52},{"s":"M","d":8,"k":"D1","c":33,"f":2.4},{"s":"M","d":8,"k":"D1","c":35,"f":3.12},{"s":"M","d":8,"k":"D1","c":37,"f":3.64},{"s":"M","d":8,"k":"D1","c":39,"f":4.08},{"s":"M","d":8,"k":"D1","c":40,"f":4.24},
{"s":"M","d":8,"k":"D2","c":25,"f":0.05},{"s":"M","d":8,"k":"D2","c":27,"f":0.09},{"s":"M","d":8,"k":"D2","c":29,"f":0.27},{"s":"M","d":8,"k":"D2","c":31,"f":0.7},{"s":"M","d":8,"k":"D2","c":33,"f":1.52},{"s":"M","d":8,"k":"D2","c":35,"f":2.4},{"s":"M","d":8,"k":"D2","c":37,"f":3.12},{"s":"M","d":8,"k":"D2","c":39,"f":3.64},{"s":"M","d":8,"k":"D2","c":40,"f":3.88},
{"s":"M","d":8,"k":"D3","c":25,"f":0.05},{"s":"M","d":8,"k":"D3","c":27,"f":0.09},{"s":"M","d":8,"k":"D3","c":29,"f":0.27},{"s":"M","d":8,"k":"D3","c":31,"f":0.7},{"s":"M","d":8,"k":"D3","c":33,"f":1.44},{"s":"M","d":8,"k":"D3","c":35,"f":2.19},{"s":"M","d":8,"k":"D3","c":37,"f":2.8},{"s":"M","d":8,"k":"D3","c":39,"f":3.24},{"s":"M","d":8,"k":"D3","c":40,"f":3.45},
{"s":"M","d":8,"k":"D4","c":27,"f":0.05},{"s":"M","d":8,"k":"D4","c":29,"f":0.09},{"s":"M","d":8,"k":"D4","c":31,"f":0.27},{"s":"M","d":8,"k":"D4","c":33,"f":0.7},{"s":"M","d":8,"k":"D4","c":35,"f":1.47},{"s":"M","d":8,"k":"D4","c":37,"f":2.26},{"s":"M","d":8,"k":"D4","c":39,"f":2.91},{"s":"M","d":8,"k":"D4","c":40,"f":3.16},
{"s":"M","d":8,"k":"D5","c":27,"f":0.05},{"s":"M","d":8,"k":"D5","c":29,"f":0.09},{"s":"M","d":8,"k":"D5","c":31,"f":0.27},{"s":"M","d":8,"k":"D5","c":33,"f":0.7},{"s":"M","d":8,"k":"D5","c":35,"f":1.39},{"s":"M","d":8,"k":"D5","c":37,"f":2.05},{"s":"M","d":8,"k":"D5","c":39,"f":2.59},{"s":"M","d":8,"k":"D5","c":40,"f":2.8},

{"s":"F","d":9,"k":"H0","c":1,"f":0.05},{"s":"F","d":9,"k":"H0","c":21,"f":0.05},{"s":"F","d":9,"k":"H0","c":23,"f":0.1},{"s":"F","d":9,"k":"H0","c":25,"f":0.3},{"s":"F","d":9,"k":"H0","c":26,"f":0.6},{"s":"F","d":9,"k":"H0","c":27,"f":1.0},{"s":"F","d":9,"k":"H0","c":29,"f":2.05},{"s":"F","d":9,"k":"H0","c":31,"f":2.95},{"s":"F","d":9,"k":"H0","c":33,"f":3.6},{"s":"F","d":9,"k":"H0","c":35,"f":4.05},{"s":"F","d":9,"k":"H0","c":37,"f":4.4},{"s":"F","d":9,"k":"H0","c":39,"f":4.72},{"s":"F","d":9,"k":"H0","c":40,"f":4.8},
{"s":"F","d":9,"k":"H1","c":17,"f":0.05},{"s":"F","d":9,"k":"H1","c":19,"f":0.09},{"s":"F","d":9,"k":"H1","c":21,"f":0.27},{"s":"F","d":9,"k":"H1","c":23,"f":0.7},{"s":"F","d":9,"k":"H1","c":25,"f":1.55},{"s":"F","d":9,"k":"H1","c":27,"f":2.47},{"s":"F","d":9,"k":"H1","c":29,"f":3.23},{"s":"F","d":9,"k":"H1","c":31,"f":3.77},{"s":"F","d":9,"k":"H1","c":33,"f":4.23},{"s":"F","d":9,"k":"H1","c":35,"f":4.57},{"s":"F","d":9,"k":"H1","c":37,"f":4.78},{"s":"F","d":9,"k":"H1","c":39,"f":4.99},{"s":"F","d":9,"k":"H1","c":40,"f":5.07},
{"s":"F","d":9,"k":"H2","c":19,"f":0.05},{"s":"F","d":9,"k":"H2","c":21,"f":0.09},{"s":"F","d":9,"k":"H2","c":23,"f":0.27},{"s":"F","d":9,"k":"H2","c":25,"f":0.7},{"s":"F","d":9,"k":"H2","c":27,"f":1.55},{"s":"F","d":9,"k":"H2","c":29,"f":2.47},{"s":"F","d":9,"k":"H2","c":31,"f":3.23},{"s":"F","d":9,"k":"H2","c":33,"f":3.77},{"s":"F","d":9,"k":"H2","c":35,"f":4.23},{"s":"F","d":9,"k":"H2","c":37,"f":4.57},{"s":"F","d":9,"k":"H2","c":39,"f":4.78},{"s":"F","d":9,"k":"H2","c":40,"f":4.91},
{"s":"F","d":9,"k":"H3","c":21,"f":0.05},{"s":"F","d":9,"k":"H3","c":23,"f":0.09},{"s":"F","d":9,"k":"H3","c":25,"f":0.27},{"s":"F","d":9,"k":"H3","c":27,"f":0.7},{"s":"F","d":9,"k":"H3","c":29,"f":1.57},{"s":"F","d":9,"k":"H3","c":31,"f":2.54},{"s":"F","d":9,"k":"H3","c":33,"f":3.33},{"s":"F","d":9,"k":"H3","c":35,"f":3.9},{"s":"F","d":9,"k":"H3","c":37,"f":4.39},{"s":"F","d":9,"k":"H3","c":39,"f":4.74},{"s":"F","d":9,"k":"H3","c":40,"f":4.87},
{"s":"F","d":9,"k":"H4","c":19,"f":0.05},{"s":"F","d":9,"k":"H4","c":21,"f":0.09},{"s":"F","d":9,"k":"H4","c":23,"f":0.27},{"s":"F","d":9,"k":"H4","c":25,"f":0.7},{"s":"F","d":9,"k":"H4","c":27,"f":1.44},{"s":"F","d":9,"k":"H4","c":29,"f":2.19},{"s":"F","d":9,"k":"H4","c":31,"f":2.8},{"s":"F","d":9,"k":"H4","c":33,"f":3.24},{"s":"F","d":9,"k":"H4","c":35,"f":3.62},{"s":"F","d":9,"k":"H4","c":37,"f":3.89},{"s":"F","d":9,"k":"H4","c":39,"f":4.06},{"s":"F","d":9,"k":"H4","c":40,"f":4.16},
{"s":"F","d":9,"k":"H5","c":21,"f":0.05},{"s":"F","d":9,"k":"H5","c":23,"f":0.09},{"s":"F","d":9,"k":"H5","c":25,"f":0.27},{"s":"F","d":9,"k":"H5","c":27,"f":0.7},{"s":"F","d":9,"k":"H5","c":29,"f":1.47},{"s":"F","d":9,"k":"H5","c":31,"f":2.26},{"s":"F","d":9,"k":"H5","c":33,"f":2.91},{"s":"F","d":9,"k":"H5","c":35,"f":3.38},{"s":"F","d":9,"k":"H5","c":37,"f":3.77},{"s":"F","d":9,"k":"H5","c":39,"f":4.06},{"s":"F","d":9,"k":"H5","c":40,"f":4.17},
{"s":"F","d":9,"k":"D0","c":1,"f":0.05},{"s":"F","d":9,"k":"D0","c":27,"f":0.05},{"s":"F","d":9,"k":"D0","c":29,"f":0.08},{"s":"F","d":9,"k":"D0","c":31,"f":0.2},{"s":"F","d":9,"k":"D0","c":33,"f":0.65},{"s":"F","d":9,"k":"D0","c":35,"f":1.55},{"s":"F","d":9,"k":"D0","c":37,"f":2.4},{"s":"F","d":9,"k":"D0","c":39,"f":3.1},{"s":"F","d":9,"k":"D0","c":40,"f":3.4},
{"s":"F","d":9,"k":"D1","c":25,"f":0.05},{"s":"F","d":9,"k":"D1","c":27,"f":0.09},{"s":"F","d":9,"k":"D1","c":29,"f":0.27},{"s":"F","d":9,"k":"D1","c":31,"f":0.7},{"s":"F","d":9,"k":"D1","c":33,"f":1.52},{"s":"F","d":9,"k":"D1","c":35,"f":2.4},{"s":"F","d":9,"k":"D1","c":37,"f":3.12},{"s":"F","d":9,"k":"D1","c":39,"f":3.64},{"s":"F","d":9,"k":"D1","c":40,"f":3.88},
{"s":"F","d":9,"k":"D2","c":27,"f":0.05},{"s":"F","d":9,"k":"D2","c":29,"f":0.09},{"s":"F","d":9,"k":"D2","c":31,"f":0.27},{"s":"F","d":9,"k":"D2","c":33,"f":0.7},{"s":"F","d":9,"k":"D2","c":35,"f":1.52},{"s":"F","d":9,"k":"D2","c":37,"f":2.4},{"s":"F","d":9,"k":"D2","c":39,"f":3.12},{"s":"F","d":9,"k":"D2","c":40,"f":3.4},
{"s":"F","d":9,"k":"D3","c":27,"f":0.05},{"s":"F","d":9,"k":"D3","c":29,"f":0.09},{"s":"F","d":9,"k":"D3","c":31,"f":0.27},{"s":"F","d":9,"k":"D3","c":33,"f":0.7},{"s":"F","d":9,"k":"D3","c":35,"f":1.44},{"s":"F","d":9,"k":"D3","c":37,"f":2.19},{"s":"F","d":9,"k":"D3","c":39,"f":2.8},{"s":"F","d":9,"k":"D3","c":40,"f":3.04},
{"s":"F","d":9,"k":"D4","c":29,"f":0.05},{"s":"F","d":9,"k":"D4","c":31,"f":0.09},{"s":"F","d":9,"k":"D4","c":33,"f":0.27},{"s":"F","d":9,"k":"D4","c":35,"f":0.7},{"s":"F","d":9,"k":"D4","c":37,"f":1.52},{"s":"F","d":9,"k":"D4","c":39,"f":2.4},{"s":"F","d":9,"k":"D4","c":40,"f":2.8},
{"s":"F","d":9,"k":"D5","c":27,"f":0.05},{"s":"F","d":9,"k":"D5","c":29,"f":0.09},{"s":"F","d":9,"k":"D5","c":31,"f":0.27},{"s":"F","d":9,"k":"D5","c":33,"f":0.7},{"s":"F","d":9,"k":"D5","c":35,"f":1.39},{"s":"F","d":9,"k":"D5","c":37,"f":2.05},{"s":"F","d":9,"k":"D5","c":39,"f":2.59},{"s":"F","d":9,"k":"D5","c":40,"f":2.8},

{"s":"M","d":9,"k":"H0","c":1,"f":0.05},{"s":"M","d":9,"k":"H0","c":31,"f":0.06},{"s":"M","d":9,"k":"H0","c":33,"f":0.12},{"s":"M","d":9,"k":"H0","c":35,"f":0.3},{"s":"M","d":9,"k":"H0","c":36,"f":0.5},{"s":"M","d":9,"k":"H0","c":37,"f":0.85},{"s":"M","d":9,"k":"H0","c":39,"f":1.6},{"s":"M","d":9,"k":"H0","c":40,"f":2.0},
{"s":"M","d":9,"k":"H1","c":27,"f":0.05},{"s":"M","d":9,"k":"H1","c":29,"f":0.09},{"s":"M","d":9,"k":"H1","c":31,"f":0.27},{"s":"M","d":9,"k":"H1","c":33,"f":0.7},{"s":"M","d":9,"k":"H1","c":35,"f":1.39},{"s":"M","d":9,"k":"H1","c":37,"f":2.05},{"s":"M","d":9,"k":"H1","c":39,"f":2.59},{"s":"M","d":9,"k":"H1","c":40,"f":2.8},
{"s":"M","d":9,"k":"H2","c":29,"f":0.05},{"s":"M","d":9,"k":"H2","c":31,"f":0.09},{"s":"M","d":9,"k":"H2","c":33,"f":0.27},{"s":"M","d":9,"k":"H2","c":35,"f":0.7},{"s":"M","d":9,"k":"H2","c":37,"f":1.36},{"s":"M","d":9,"k":"H2","c":39,"f":1.98},{"s":"M","d":9,"k":"H2","c":40,"f":2.26},
{"s":"M","d":9,"k":"H3","c":29,"f":0.05},{"s":"M","d":9,"k":"H3","c":31,"f":0.09},{"s":"M","d":9,"k":"H3","c":33,"f":0.27},{"s":"M","d":9,"k":"H3","c":35,"f":0.7},{"s":"M","d":9,"k":"H3","c":37,"f":1.29},{"s":"M","d":9,"k":"H3","c":39,"f":1.77},{"s":"M","d":9,"k":"H3","c":40,"f":1.99},
{"s":"M","d":9,"k":"H4","c":31,"f":0.05},{"s":"M","d":9,"k":"H4","c":33,"f":0.09},{"s":"M","d":9,"k":"H4","c":35,"f":0.27},{"s":"M","d":9,"k":"H4","c":37,"f":0.7},{"s":"M","d":9,"k":"H4","c":39,"f":1.31},{"s":"M","d":9,"k":"H4","c":40,"f":1.6},
{"s":"M","d":9,"k":"H5","c":33,"f":0.05},{"s":"M","d":9,"k":"H5","c":35,"f":0.1},{"s":"M","d":9,"k":"H5","c":37,"f":0.18},{"s":"M","d":9,"k":"H5","c":39,"f":0.28},{"s":"M","d":9,"k":"H5","c":40,"f":0.35},
{"s":"M","d":9,"k":"D0","c":1,"f":0.05},{"s":"M","d":9,"k":"D0","c":27,"f":0.05},{"s":"M","d":9,"k":"D0","c":29,"f":0.15},{"s":"M","d":9,"k":"D0","c":31,"f":0.5},{"s":"M","d":9,"k":"D0","c":33,"f":1.3},{"s":"M","d":9,"k":"D0","c":35,"f":2.2},{"s":"M","d":9,"k":"D0","c":37,"f":2.85},{"s":"M","d":9,"k":"D0","c":39,"f":3.45},{"s":"M","d":9,"k":"D0","c":40,"f":3.68},
{"s":"M","d":9,"k":"D1","c":23,"f":0.05},{"s":"M","d":9,"k":"D1","c":25,"f":0.09},{"s":"M","d":9,"k":"D1","c":27,"f":0.27},{"s":"M","d":9,"k":"D1","c":29,"f":0.7},{"s":"M","d":9,"k":"D1","c":31,"f":1.47},{"s":"M","d":9,"k":"D1","c":33,"f":2.26},{"s":"M","d":9,"k":"D1","c":35,"f":2.91},{"s":"M","d":9,"k":"D1","c":37,"f":3.38},{"s":"M","d":9,"k":"D1","c":39,"f":3.77},{"s":"M","d":9,"k":"D1","c":40,"f":3.92},
{"s":"M","d":9,"k":"D2","c":25,"f":0.05},{"s":"M","d":9,"k":"D2","c":27,"f":0.09},{"s":"M","d":9,"k":"D2","c":29,"f":0.27},{"s":"M","d":9,"k":"D2","c":31,"f":0.7},{"s":"M","d":9,"k":"D2","c":33,"f":1.49},{"s":"M","d":9,"k":"D2","c":35,"f":2.33},{"s":"M","d":9,"k":"D2","c":37,"f":3.01},{"s":"M","d":9,"k":"D2","c":39,"f":3.51},{"s":"M","d":9,"k":"D2","c":40,"f":3.74},
{"s":"M","d":9,"k":"D3","c":25,"f":0.05},{"s":"M","d":9,"k":"D3","c":27,"f":0.09},{"s":"M","d":9,"k":"D3","c":29,"f":0.27},{"s":"M","d":9,"k":"D3","c":31,"f":0.7},{"s":"M","d":9,"k":"D3","c":33,"f":1.42},{"s":"M","d":9,"k":"D3","c":35,"f":2.12},{"s":"M","d":9,"k":"D3","c":37,"f":2.7},{"s":"M","d":9,"k":"D3","c":39,"f":3.11},{"s":"M","d":9,"k":"D3","c":40,"f":3.3},
{"s":"M","d":9,"k":"D4","c":27,"f":0.05},{"s":"M","d":9,"k":"D4","c":29,"f":0.09},{"s":"M","d":9,"k":"D4","c":31,"f":0.27},{"s":"M","d":9,"k":"D4","c":33,"f":0.7},{"s":"M","d":9,"k":"D4","c":35,"f":1.49},{"s":"M","d":9,"k":"D4","c":37,"f":2.33},{"s":"M","d":9,"k":"D4","c":39,"f":3.01},{"s":"M","d":9,"k":"D4","c":40,"f":3.28},
{"s":"M","d":9,"k":"D5","c":23,"f":0.05},{"s":"M","d":9,"k":"D5","c":25,"f":0.09},{"s":"M","d":9,"k":"D5","c":27,"f":0.27},{"s":"M","d":9,"k":"D5","c":29,"f":0.7},{"s":"M","d":9,"k":"D5","c":31,"f":1.42},{"s":"M","d":9,"k":"D5","c":33,"f":2.12},{"s":"M","d":9,"k":"D5","c":35,"f":2.7},{"s":"M","d":9,"k":"D5","c":37,"f":3.11},{"s":"M","d":9,"k":"D5","c":39,"f":3.46},{"s":"M","d":9,"k":"D5","c":40,"f":3.59}
]},
"facet":{
 "row":{"field":"d","type":"ordinal","header":{"labels":false,"title":"Fluorescence","titleFont":"Liberation Serif","titleFontSize":24,"titleFontWeight":"normal","titleColor":"#000","titlePadding":0}},
 "column":{"field":"s","type":"nominal","sort":["F","M"],"header":{"labelExpr":"datum.value=='F'?'Female':'Male'","labelFont":"Liberation Serif","labelFontSize":24,"labelColor":"#000","labelOrient":"top","labelAlign":"right","labelPadding":3,"title":"Cycle number","titleOrient":"bottom","titleFont":"Liberation Serif","titleFontSize":24,"titleFontWeight":"normal","titleColor":"#000","titlePadding":2}}
},
"spacing":{"row":16,"column":18},
"resolve":{"axis":{"x":"independent","y":"independent"}},
"spec":{
 "width":552,"height":148,
 "layer":[
  {"transform":[{"filter":{"field":"k","oneOf":["H1","H2","H3","H4","H5","H6"]}}],
   "mark":{"type":"line","interpolate":"monotone","color":"#F6C3A0","opacity":0.7,"strokeWidth":3},
   "encoding":{
    "x":{"field":"c","type":"quantitative","title":null,"scale":{"domain":[0.5,40.5],"nice":false,"zero":false},
         "axis":{"values":[1,3,5,7,9,11,13,15,17,19,21,23,25,27,29,31,33,35,37,39],"tickCount":60,"format":"d","grid":false,"ticks":false,"domain":false,"labelFont":"Liberation Serif","labelFontSize":13.5,"labelColor":"#222","labelPadding":10,"labelFlush":false,"labelOverlap":false,"labelBound":false}},
    "y":{"field":"f","type":"quantitative","title":null,"scale":{"domain":[0,6],"nice":false,"zero":true},
         "axis":{"values":[0,1,2,3,4,5,6],"tickCount":20,"format":"d","grid":true,"gridColor":"#D9D9D9","ticks":false,"domain":false,"labelFont":"Liberation Serif","labelFontSize":13.5,"labelColor":"#222","labelPadding":13,"labelFlush":false,"labelOverlap":false,"labelBound":false}},
    "detail":{"field":"k"}}},
  {"transform":[{"filter":{"field":"k","oneOf":["D1","D2","D3","D4","D5","D6"]}}],
   "mark":{"type":"line","interpolate":"monotone","color":"#9DC3E6","opacity":0.7,"strokeWidth":3},
   "encoding":{"x":{"field":"c","type":"quantitative","title":null},"y":{"field":"f","type":"quantitative","title":null},"detail":{"field":"k"}}},
  {"transform":[{"filter":{"field":"k","equal":"L"}}],
   "mark":{"type":"rule","color":"#FF0000","strokeDash":[5,3],"strokeWidth":1.5},
   "encoding":{"y":{"datum":1,"type":"quantitative"}}},
  {"transform":[{"filter":{"field":"k","equal":"H0"}}],
   "mark":{"type":"line","interpolate":"monotone","strokeWidth":3.2},
   "encoding":{"x":{"field":"c","type":"quantitative","title":null},"y":{"field":"f","type":"quantitative","title":null},
    "color":{"field":"k","type":"nominal","scale":{"domain":["H0","D0"],"range":["#ED7D31","#4A86CF"]},
      "legend":{"orient":"none","legendX":406,"legendY":-28,"direction":"horizontal","title":null,"symbolType":"M-1,0H7","symbolStrokeWidth":7,"symbolSize":169,"labelFont":"Liberation Serif","labelFontSize":24,"labelFontStyle":"italic","labelColor":"#000","labelOffset":45,"columnPadding":34,"labelExpr":"datum.value=='H0'?'HINTW':'DMRT-1'"}}}},
  {"transform":[{"filter":{"field":"k","equal":"D0"}}],
   "mark":{"type":"line","interpolate":"monotone","strokeWidth":3.2},
   "encoding":{"x":{"field":"c","type":"quantitative","title":null},"y":{"field":"f","type":"quantitative","title":null},
    "color":{"field":"k","type":"nominal"}}},
  {"transform":[{"filter":{"field":"k","equal":"L"}}],
   "mark":{"type":"text","align":"left","baseline":"middle","font":"Liberation Serif","fontSize":24,"color":"#000"},
   "encoding":{"x":{"datum":0.4,"type":"quantitative"},"y":{"datum":5.5,"type":"quantitative"},"text":{"field":"t"}}}
 ]
},
"config":{"font":"Liberation Serif","view":{"stroke":null},"axis":{"labelOverlap":false,"labelBound":false}}
}
